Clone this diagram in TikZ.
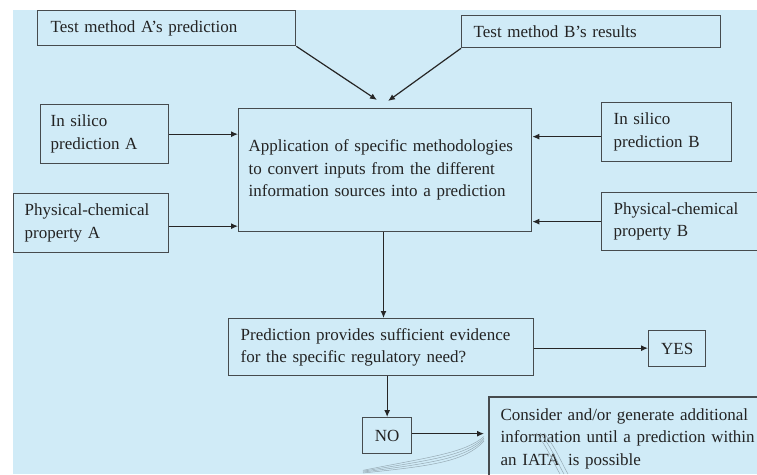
\documentclass[tikz,border=0pt]{standalone}
\usepackage{fontspec}
\setmainfont{Liberation Serif}
\usetikzlibrary{arrows.meta}
\definecolor{bgblue}{RGB}{208,235,247}
\definecolor{edgec}{RGB}{70,75,78}
\definecolor{txtc}{RGB}{35,35,35}
\definecolor{faint}{RGB}{150,170,180}
\tikzset{
  x=1pt, y=1pt,
  boxedge/.style={draw=edgec, line width=1.3pt},
  box/.style={boxedge, rectangle, font=\fontsize{17}{22.5}\selectfont, text=txtc, align=left, inner ysep=4pt},
  arr/.style={draw=black!85, line width=1.2pt, -{Latex[length=7pt,width=6pt]}},
  faintline/.style={draw=faint, line width=0.5pt}
}
\begin{document}
\begin{tikzpicture}
\useasboundingbox (0,0) rectangle (757,-474);
\clip (0,0) rectangle (757,-474);
\fill[bgblue] (13,-10) rectangle (757,-474);

% input boxes
\node[box, anchor=north west, inner xsep=13pt, text width=232pt, minimum height=35pt] (testA) at (37,-10) {Test method A's prediction};
\node[box, anchor=north west, inner xsep=12pt, text width=235pt, minimum height=32pt] (testB) at (461,-15) {Test method B's results};
\node[box, anchor=north west, inner xsep=10pt, text width=108pt, minimum height=59pt] (isA) at (40,-104) {In silico\\prediction A};
\node[box, anchor=north west, inner xsep=11pt, text width=133pt, minimum height=59pt] (pcA) at (13,-193) {Physical-chemical\\property A};
\node[box, anchor=north west, inner xsep=12pt, text width=106pt, minimum height=59pt] (isB) at (601,-102) {In silico\\prediction B};
\node[box, anchor=north west, inner xsep=12pt, text width=150pt, minimum height=58pt] (pcB) at (601,-192) {Physical-chemical\\property B};

% central box
\node[box, anchor=north west, inner xsep=10pt, text width=273pt, minimum height=123pt] (central) at (238,-108)
  {\makebox[\linewidth][s]{Application of specific methodologies}\\
   \makebox[\linewidth][s]{to convert inputs from the different}\\
   information sources into a prediction};

% decision
\node[box, anchor=north west, inner xsep=12pt, text width=281pt, minimum height=57pt] (decision) at (228,-318)
  {Prediction provides sufficient evidence\\for the specific regulatory need?};
\node[box, anchor=north west, align=center, inner xsep=2pt, minimum width=57pt, minimum height=36pt] (yes) at (648,-330) {YES};
\node[box, anchor=north west, align=center, inner xsep=2pt, minimum width=49pt, minimum height=36pt] (no) at (362,-417) {NO};
\node[box, draw=none, anchor=north west, inner xsep=11pt, inner ysep=11pt, text width=300pt] (consider) at (489,-397)
  {Consider and/or generate additional\\information until a prediction within\\an IATA\, is possible};
\draw[boxedge] (consider.north west) rectangle ([xshift=330pt,yshift=-120pt]consider.north west);

% arrow end points
\coordinate (cA) at (377,-100);
\coordinate (cB) at (388,-101);

% connectors
\draw[arr] (testA.south east) -- (cA);
\draw[arr] (testB.south west) -- (cB);
\draw[arr] (isA.east) -- (isA.east -| central.west);
\draw[arr] ([yshift=-3pt]pcA.east) -- ([yshift=-3pt]pcA.east -| central.west);
\draw[arr] ([yshift=-4.5pt]isB.west) -- ([yshift=-4.5pt]isB.west -| central.east);
\draw[arr] (pcB.west) -- (pcB.west -| central.east);
\draw[arr] (central.south -| 383.5,0) -- (decision.north -| 383.5,0);
\draw[arr] ([yshift=-1pt]decision.east) -- ([yshift=-1pt]decision.east -| yes.west);
\draw[arr] (no.north |- decision.south) -- (no.north);
\draw[arr, shorten >=5pt] ([yshift=2pt]no.east) -- ([yshift=2pt]no.east -| consider.west);

% faint background curves
\foreach \d in {0,3,6,9}{
  \draw[faintline] (363,-473+\d*0.3) .. controls (430,-466+\d) and (465,-462+\d) .. (484,-441+\d*0.5);
}
\foreach \d in {0,4,8}{
  \draw[faintline] (536+\d,-433) .. controls (548+\d,-448) and (553+\d,-462) .. (560+\d,-474);
}
\end{tikzpicture}
\end{document}
